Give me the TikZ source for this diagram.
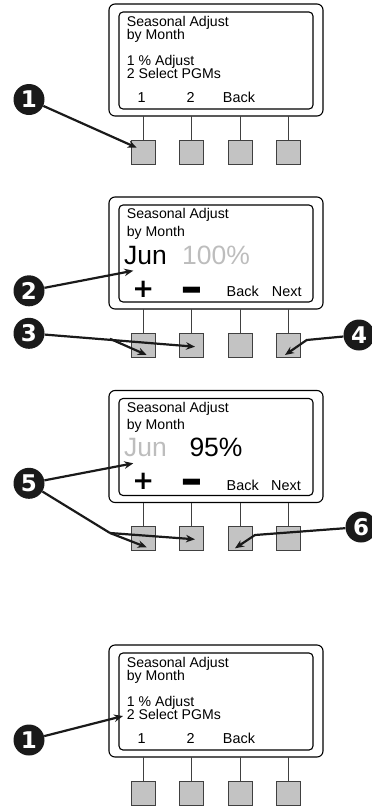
\documentclass[tikz,border=0pt]{standalone}
\usepackage{fontspec}
\setmainfont{Liberation Sans}
\newfontfamily\numfont{DejaVu Sans}
\usetikzlibrary{arrows.meta,calc}
\definecolor{btn}{HTML}{C3C3C3}
\definecolor{dim}{HTML}{BDBDBD}
\definecolor{ink}{HTML}{1A1A1A}
\tikzset{
 outerbox/.style={draw=black, line width=1.1pt, rounded corners=6pt},
 screen/.style={draw=black, line width=1.1pt, rounded corners=4pt},
 button/.style={draw=black!75, fill=btn, line width=0.9pt, minimum size=24pt, inner sep=0pt},
 stem/.style={draw=black!75, line width=0.9pt},
 lcd/.style={inner sep=0pt, anchor=base west, text height=10pt, text depth=2pt, font=\fontsize{14.1}{14.1}\selectfont},
 soft/.style={inner sep=0pt, anchor=base, font=\fontsize{14.4}{14.4}\selectfont},
 big/.style={inner sep=0pt, anchor=base west, font=\fontsize{26.5}{26.5}\selectfont},
 sym/.style={inner sep=0pt, anchor=center, font=\numfont\bfseries\fontsize{26}{26}\selectfont},
 bar/.style={inner sep=0pt, anchor=base, text height=20pt, text depth=0pt, font=\numfont\bfseries\fontsize{26}{26}\selectfont},
 callout/.style={circle, fill=ink, minimum size=31pt, inner sep=0pt, text=white, font=\numfont\bfseries\fontsize{23}{23}\selectfont},
 pointer/.style={draw=ink, line width=2.2pt, -{Stealth[length=9pt,width=7.5pt]}},
 joinline/.style={draw=ink, line width=2.2pt},
}
\newcommand\panelframe[2]{%
 \draw[outerbox] (109,#2) rectangle (323,{#2+112});
 \draw[screen] (119,{#2+8}) rectangle (313,{#2+105});
 \foreach \i/\x in {1/143,2/191.3,3/240,4/288.7}{
   \node[button] (#1b\i) at (\x,{#2+148}) {};
   \draw[stem] (\x,{#2+112}) -- (#1b\i.north);
 }%
}
\begin{document}
\begin{tikzpicture}[x=1pt,y=-1pt]
\useasboundingbox (0,0) rectangle (372,807);

% ---------- panel 1 ----------
\panelframe{pA}{4}
\node[lcd] (pAl1) at (126.7,26.6) {Seasonal Adjust};
\node[lcd] (pAl2) at (126.7,39.8) {by Month};
\node[lcd] (pAl3) at (126.7,65.2) {1 \% Adjust};
\node[lcd] (pAl4) at (126.7,78.6) {2 Select PGMs};
\node[soft] (pAk1) at (141.7,102.2) {1};
\node[soft] (pAk2) at (190.7,102.2) {2};
\node[soft] (pAk3) at (239,102.2) {Back};

% ---------- panel 2 ----------
\panelframe{pB}{197}
\node[lcd] (pBl1) at (126.7,218.5) {Seasonal Adjust};
\node[lcd] (pBl2) at (126.7,236.5) {by Month};
\node[big] (pBm) at (124,264.2) {Jun};
\node[big,text=dim] (pBv) at (182,264.2) {100\%};
\node[sym] (pBk1) at (143.3,289.2) {+};
\node[bar] (pBk2) at (192.3,306) {\scalebox{1.05}[2]{−}};
\node[soft] (pBk3) at (242.7,296.7) {Back};
\node[soft] (pBk4) at (286.7,296.7) {Next};

% ---------- panel 3 ----------
\panelframe{pC}{390.5}
\node[lcd] (pCl1) at (126.7,412.7) {Seasonal Adjust};
\node[lcd] (pCl2) at (126.7,429.5) {by Month};
\node[big,text=dim] (pCm) at (124,456.7) {Jun};
\node[big] (pCv) at (189.3,456.7) {95\%};
\node[sym] (pCk1) at (143.3,481.7) {+};
\node[bar] (pCk2) at (192.3,498.2) {\scalebox{1.05}[2]{−}};
\node[soft] (pCk3) at (242.7,490) {Back};
\node[soft] (pCk4) at (286,490) {Next};

% ---------- panel 4 ----------
\panelframe{pD}{645}
\node[lcd] (pDl1) at (126.7,667.5) {Seasonal Adjust};
\node[lcd] (pDl2) at (126.7,680.7) {by Month};
\node[lcd] (pDl3) at (126.7,706.2) {1 \% Adjust};
\node[lcd] (pDl4) at (126.7,719.6) {2 Select PGMs};
\node[soft] (pDk1) at (141.7,743.2) {1};
\node[soft] (pDk2) at (190.7,743.2) {2};
\node[soft] (pDk3) at (239,743.2) {Back};

% ---------- callouts ----------
\node[callout] (c1a) at (29,99.5) {1};
\node[callout] (c2) at (29,290.8) {2};
\node[callout] (c3) at (29,333.3) {3};
\node[callout] (c4) at (359,335) {4};
\node[callout] (c5) at (29,483.3) {5};
\node[callout] (c6) at (361,527) {6};
\node[callout] (c1b) at (29,740) {1};

% arrow targets and bends
\coordinate (t1a) at (136.7,147.7);
\coordinate (t2) at (133.3,270.7);
\coordinate (j3) at (110,338.8);
\coordinate (t3a) at (146.7,355);
\coordinate (t3b) at (195,346.7);
\coordinate (j4) at (306.7,340);
\coordinate (t4) at (285,355);
\coordinate (t5c) at (133.3,463.3);
\coordinate (j5) at (110,533);
\coordinate (t5a) at (146.7,547.3);
\coordinate (t5b) at (195,539.3);
\coordinate (j6) at (255,535);
\coordinate (t6) at (235,548.3);
\coordinate (t1b) at (123,716);

\draw[pointer] (c1a) -- (t1a);
\draw[pointer] (c2) -- (t2);
\draw[pointer] (c3) -- (t3b);
\draw[pointer] (j3) -- (t3a);
\draw[pointer] (c4) -- (j4) -- (t4);
\draw[pointer] (c5) -- (t5c);
\draw[joinline] (c5) -- (j5);
\draw[pointer] (j5) -- (t5a);
\draw[pointer] (j5) -- (t5b);
\draw[pointer] (c6) -- (j6) -- (t6);
\draw[pointer] (c1b) -- (t1b);
\end{tikzpicture}
\end{document}
